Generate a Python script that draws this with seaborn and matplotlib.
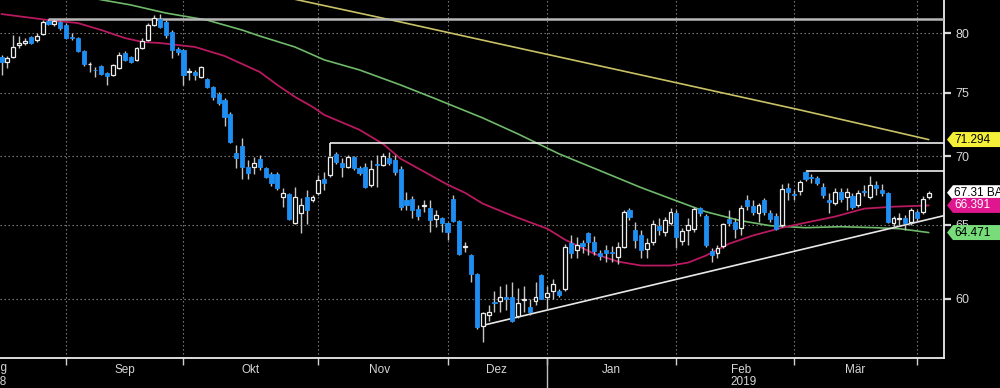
import numpy as np
import matplotlib
matplotlib.use("Agg")
import matplotlib.pyplot as plt
import seaborn as sns
from matplotlib.patches import Polygon
from matplotlib.ticker import NullLocator

# Daily candles, one per trading day: index 0 = 17 Aug 2018 ... index 158 = 3 Apr 2019
opens = [
    77.95, 77.53, 77.95, 79.01, 79.14, 79.66, 79.40, 79.91, 81.04, 80.78, 80.96,  # Aug
    80.70, 79.66, 79.57, 78.46, 77.33, 76.87, 77.20, 76.62, 76.45, 77.03, 78.29, 77.95, 77.70, 78.71, 79.40,
    80.70, 81.22, 80.96, 80.09, 78.63,  # Sep
    78.54, 76.66, 76.70, 76.28, 76.12, 75.47, 74.90, 74.42, 73.30, 70.28, 70.81, 69.23, 69.23, 69.83, 69.15,
    68.71, 68.71, 67.02, 67.24, 65.16, 65.87, 67.02, 66.80,  # Okt
    67.31, 68.34, 68.63, 70.20, 69.53, 69.23, 69.98, 69.15, 69.23, 67.90, 69.42, 69.38, 69.90, 69.75, 69.08,
    66.80, 66.88, 66.16, 66.34, 66.23, 65.45, 65.52,  # Nov
    65.16, 66.88, 65.30, 63.46, 62.94, 61.67, 58.25, 58.94, 59.80, 59.90, 60.16, 60.10, 58.88, 59.94, 59.51,
    59.90, 61.61,  # Dez
    60.16, 60.49, 60.49, 60.62, 63.77, 63.29, 63.77, 64.46, 63.84, 63.08, 63.29, 63.15, 62.81, 63.50, 66.09,
    64.67, 64.32, 63.36, 63.84, 64.95, 64.53, 65.16,  # Jan
    65.87, 63.91, 64.67, 64.74, 66.23, 65.66, 63.22, 63.08, 63.56, 65.45, 65.23, 64.81, 66.80, 66.38, 65.87,
    66.80, 65.87, 65.66, 65.02, 67.68,  # Feb
    67.20, 67.46, 68.86, 68.48, 68.41, 67.75, 66.80, 66.59, 67.38, 67.02, 67.09, 66.45, 67.42, 67.02, 67.90,
    67.53, 67.31, 65.16, 65.41, 65.52, 65.23,  # Mär
    65.94, 65.94, 67.02,  # Apr
]
closes = [
    77.53, 77.87, 78.80, 79.14, 79.31, 79.14, 79.74, 80.96, 80.78, 81.04, 80.43,
    79.57, 79.53, 78.46, 77.37, 77.38, 76.83, 76.54, 76.37, 77.28, 78.12, 77.70, 77.53, 78.71, 79.31, 80.70,
    81.31, 80.52, 79.83, 78.54, 78.38,
    76.45, 76.74, 76.45, 77.11, 75.47, 74.66, 74.18, 73.06, 71.12, 69.90, 69.23, 68.78, 69.53, 69.23, 68.48,
    68.04, 67.68, 67.31, 65.45, 67.02, 66.45, 66.09, 67.02,
    68.26, 68.04, 69.98, 69.60, 69.23, 69.98, 69.15, 68.78, 67.75, 69.08, 69.34, 70.05, 69.53, 68.86, 66.30,
    66.45, 66.09, 65.66, 66.41, 65.38, 65.73, 65.16,
    64.53, 65.30, 63.01, 63.53, 61.67, 58.18, 59.07, 59.13, 59.74, 60.16, 59.97, 58.56, 59.71, 60.00, 59.13,
    60.10, 60.03,
    60.36, 60.95, 60.29, 63.50, 63.08, 63.63, 63.56, 63.84, 63.22, 62.88, 63.08, 63.08, 63.50, 65.94, 65.59,
    63.98, 63.29, 63.77, 65.09, 64.67, 65.38, 65.94,
    64.19, 64.60, 65.02, 66.16, 65.87, 63.63, 62.94, 63.43, 65.09, 65.16, 64.74, 66.23, 66.38, 65.94, 66.45,
    65.94, 65.45, 64.74, 67.60, 67.38,
    67.13, 68.11, 68.34, 68.41, 68.04, 67.17, 66.66, 67.38, 66.88, 67.38, 66.30, 67.31, 67.35, 67.90, 67.68,
    67.31, 65.23, 65.52, 65.48, 65.16, 66.09,
    65.52, 66.88, 67.31,
]
highs = [
    78.12, 78.04, 79.83, 79.74, 79.57, 79.74, 80.00, 81.13, 81.22, 81.22, 81.04,
    80.87, 80.00, 79.66, 78.54, 77.53, 77.11, 77.28, 76.70, 77.37, 78.38, 78.46, 78.04, 78.80, 79.57, 80.87,
    81.57, 81.66, 81.13, 80.26, 78.80,
    78.63, 77.03, 76.87, 77.20, 76.20, 75.55, 75.06, 74.58, 73.46, 70.89, 71.43, 69.75, 69.98, 70.13, 69.23,
    68.86, 68.86, 67.68, 67.31, 67.75, 66.95, 67.53, 67.17,
    68.63, 68.86, 70.05, 70.35, 69.90, 70.13, 70.05, 69.30, 69.53, 69.75, 70.13, 70.28, 70.35, 70.13, 69.30,
    67.38, 67.09, 66.45, 66.80, 66.80, 66.09, 65.59,
    65.23, 67.17, 65.38, 63.84, 63.01, 61.74, 59.13, 59.64, 60.49, 60.82, 60.95, 61.08, 60.75, 60.82, 59.97,
    61.08, 61.67,
    60.82, 61.28, 60.62, 63.70, 64.32, 64.19, 63.98, 64.53, 64.26, 63.29, 63.63, 63.56, 63.84, 66.09, 66.23,
    65.23, 64.67, 64.12, 65.38, 65.52, 65.59, 66.23,
    66.09, 64.81, 65.52, 66.30, 66.30, 65.80, 63.43, 63.63, 65.16, 66.09, 65.52, 66.45, 67.17, 66.80, 66.59,
    66.95, 66.09, 65.87, 67.97, 68.04,
    67.53, 68.26, 69.00, 68.71, 68.56, 68.04, 67.31, 67.68, 67.68, 67.68, 67.31, 67.53, 67.90, 68.56, 68.19,
    67.97, 67.38, 65.66, 65.87, 65.73, 66.23,
    66.09, 67.09, 67.46,
]
lows = [
    76.45, 77.03, 77.87, 78.71, 78.97, 79.05, 79.23, 79.83, 80.70, 80.61, 80.26,
    79.48, 79.40, 78.38, 77.20, 76.70, 76.28, 76.45, 75.63, 76.37, 76.95, 77.62, 77.45, 77.62, 78.63, 79.31,
    80.61, 80.43, 79.57, 77.87, 78.12,
    75.63, 76.04, 76.04, 76.20, 75.39, 74.42, 74.02, 72.36, 71.04, 69.15, 68.34, 68.34, 68.71, 69.00, 68.41,
    67.82, 67.53, 66.30, 65.38, 65.09, 64.46, 65.09, 66.66,
    67.17, 67.53, 68.48, 69.45, 68.48, 69.15, 69.00, 68.63, 67.68, 67.75, 67.75, 69.30, 69.38, 68.63, 66.09,
    66.09, 65.52, 65.38, 65.94, 64.53, 64.88, 64.53,
    63.98, 65.23, 62.94, 63.15, 61.08, 58.06, 57.25, 58.56, 59.13, 59.19, 59.32, 58.50, 58.81, 59.19, 59.00,
    59.64, 59.97,
    59.32, 59.97, 60.10, 60.55, 62.74, 62.74, 63.08, 62.94, 62.94, 62.61, 62.48, 62.48, 62.34, 63.43, 65.38,
    63.43, 62.74, 62.74, 63.63, 64.32, 64.26, 65.02,
    63.43, 63.63, 63.63, 64.53, 65.66, 63.50, 62.48, 62.74, 63.43, 64.95, 64.12, 64.32, 66.09, 65.73, 65.23,
    65.73, 65.23, 64.67, 64.88, 66.80,
    66.80, 67.17, 68.19, 68.04, 67.90, 66.95, 65.87, 66.45, 66.66, 66.09, 66.16, 66.30, 67.09, 66.88, 67.17,
    67.09, 65.16, 64.88, 64.95, 64.67, 65.02,
    65.30, 65.80, 66.88,
]

# Moving averages at selected trading days
ma_fast_idx = [0, 8, 13, 17, 21, 24, 27, 33, 38, 44, 47, 50, 53, 55, 61, 65, 68, 72, 76, 79, 82, 87,
               93, 96, 101, 105, 109, 114, 117, 120, 124, 128, 133, 137, 142, 147, 152, 158]
ma_fast = [81.66, 81.13, 80.87, 80.26, 79.57, 79.23, 79.14, 78.80, 78.04, 76.70, 75.63, 74.66, 73.86,
           73.22, 72.05, 70.96, 69.83, 68.86, 67.90, 67.30, 66.52, 65.66, 64.74, 63.98, 63.01, 62.48,
           62.21, 62.21, 62.41, 62.88, 63.70, 64.26, 64.81, 65.16, 65.59, 66.16, 66.30, 66.39]
ma_mid_idx = [10, 17, 22, 28, 35, 41, 44, 50, 55, 61, 68, 74, 82, 88, 95, 102, 109, 114, 120, 126,
              131, 137, 143, 149, 153, 158]
ma_mid = [83.72, 82.93, 82.47, 81.75, 81.13, 80.26, 79.74, 78.80, 77.71, 76.87, 75.63, 74.50, 72.98,
          71.73, 70.20, 68.93, 67.68, 66.88, 65.94, 65.30, 64.95, 64.81, 64.88, 64.81, 64.74, 64.47]
ma_slow_idx = [48, 68, 85, 102, 119, 136, 145, 158]
ma_slow = [83.20, 80.96, 79.05, 77.20, 75.39, 73.62, 72.66, 71.29]

# Horizontal resistance levels (price, first day) and the support trend line
level_prices = [81.22, 71.04, 68.93]
level_start = [8, 56, 137]
trend_idx = [82, 160.6]
trend_prices = [58.31, 65.66]

# Last-value tags on the right
tag_values = [71.294, 67.31, 66.391, 64.471]
tag_texts = ["71.294", "67.31 BAS", "66.391", "64.471"]
tag_faces = ["#f4f03a", "#ffffff", "#e0168f", "#79dc7a"]
tag_fg = ["black", "black", "white", "black"]

# Axis layout
month_starts = [11, 31, 54, 76, 93, 115, 135, 156]
month_mid = [21, 42.4, 64.5, 84.3, 103.9, 126, 145.5]
month_names = ["Sep", "Okt", "Nov", "Dez", "Jan", "Feb", "Mär"]
price_ticks = [60, 65, 70, 75, 80]

BLUE = "#1e8ef2"
TXT = "#d6d6d6"
FS = 8.5

sns.set_theme(style="dark", rc={
    "figure.facecolor": "black",
    "axes.facecolor": "black",
    "savefig.facecolor": "black",
    "text.color": TXT,
})
plt.rcParams["font.family"] = ["Liberation Sans", "DejaVu Sans"]

fig = plt.figure(figsize=(10, 3.88), dpi=100)
ax = fig.add_axes([0, 30 / 388, 0.944, 358 / 388])
ax.set_yscale("log")
ylo, yhi = 56.29, 82.91
ax.set_xlim(-0.26, 160.6)
ax.set_ylim(ylo, yhi)

o = np.array(opens)
c = np.array(closes)
h = np.array(highs)
l = np.array(lows)
idx = np.arange(len(o))
up = c >= o
bot = np.minimum(o, c)
height = np.abs(c - o)

# wicks and bodies
ax.vlines(idx, l, h, color="#c4c4c4", linewidth=1.0, zorder=4)
ax.bar(idx[up], height[up], bottom=bot[up], width=0.66, facecolor="black",
       edgecolor="#ececec", linewidth=0.9, zorder=5)
ax.bar(idx[~up], height[~up], bottom=bot[~up], width=0.7, facecolor=BLUE,
       edgecolor=BLUE, linewidth=0.6, zorder=5)

# moving averages
sns.lineplot(x=ma_slow_idx, y=ma_slow, ax=ax, color="#c9c165", linewidth=1.2, zorder=3)
sns.lineplot(x=ma_mid_idx, y=ma_mid, ax=ax, color="#6fb96a", linewidth=1.2, zorder=3)
sns.lineplot(x=ma_fast_idx, y=ma_fast, ax=ax, color="#b8195f", linewidth=1.3, zorder=3)

# levels and trend line
xmax = ax.get_xlim()[1]
for k, (p, s) in enumerate(zip(level_prices, level_start)):
    col = "#b8b8b8" if k == 0 else "#f0f0f0"
    lw = 1.8 if k == 0 else 1.2
    ax.hlines(p, s, xmax, color=col, linewidth=lw, zorder=3.5)
ax.vlines(level_start[1], highs[level_start[1]], level_prices[1], color="#f0f0f0", linewidth=1.2, zorder=3.5)
ax.plot(trend_idx, trend_prices, color="#e8e8e8", linewidth=1.2, zorder=3.5)

# grid, spines and ticks
ax.grid(True, which="major", color="#8a8a8a", linestyle=(0, (1.2, 2.4)), linewidth=0.8)
for side in ["top", "left"]:
    ax.spines[side].set_visible(False)
for side in ["right", "bottom"]:
    ax.spines[side].set_visible(True)
    ax.spines[side].set_color("#ececec")
    ax.spines[side].set_linewidth(1.3)

ax.yaxis.tick_right()
ax.set_yticks(price_ticks)
ax.set_yticklabels([str(t) for t in price_ticks])
ax.yaxis.set_minor_locator(NullLocator())
ax.tick_params(axis="y", which="major", colors=TXT, labelsize=FS + 0.5, length=5, width=1.6,
               pad=3, right=True, left=False)

ax.set_xticks(month_starts)
ax.set_xticklabels([])
ax.set_xticks(month_mid, minor=True)
ax.set_xticklabels(month_names, minor=True)
ax.tick_params(axis="x", which="major", colors="#d0d0d0", length=5, width=1, bottom=True)
ax.tick_params(axis="x", which="minor", colors=TXT, labelsize=FS, length=0, pad=4)

# cut-off Aug/2018 labels at left, year label and year separator
xt = ax.get_xaxis_transform()
ax.text(1.1, -0.028, "Aug", transform=xt, ha="right", va="center", fontsize=FS, color=TXT, clip_on=False)
ax.text(0.8, -0.067, "2018", transform=xt, ha="right", va="center", fontsize=FS, color=TXT, clip_on=False)
ax.text(126.4, -0.067, "2019", transform=xt, ha="center", va="center", fontsize=FS, color=TXT, clip_on=False)
ax.plot([93, 93], [0, -30 / 358], transform=xt, color="#bdbdbd", linewidth=1, clip_on=False)

# value tags on the right edge
yt = ax.get_yaxis_transform()
f = np.exp(7.5 * np.log(yhi / ylo) / 358)
px = 1 / 944
for v, t, fc, fg in zip(tag_values, tag_texts, tag_faces, tag_fg):
    verts = [(1 + 3 * px, v), (1 + 9 * px, v * f), (1.1, v * f), (1.1, v / f), (1 + 9 * px, v / f)]
    ax.add_patch(Polygon(verts, closed=True, transform=yt, facecolor=fc, edgecolor="none",
                         clip_on=False, zorder=10))
    ax.text(1 + 10 * px, v, t, transform=yt, color=fg, ha="left", va="center", fontsize=FS,
            clip_on=False, zorder=11)

fig.savefig("out.png", dpi=100, facecolor="black")
